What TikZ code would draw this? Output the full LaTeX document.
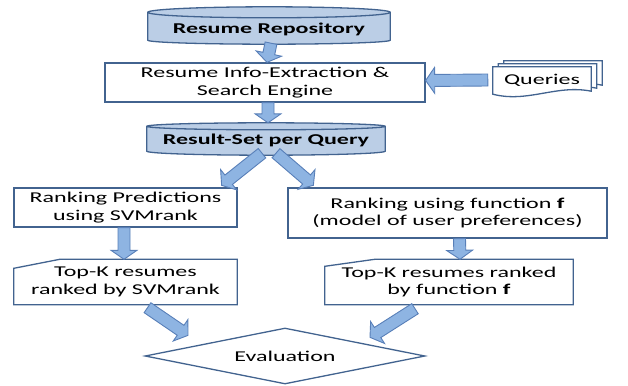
\documentclass[tikz,border=0pt]{standalone}
\usepackage{fontspec}
\setmainfont{Carlito}[FakeStretch=1.6]
\usetikzlibrary{calc,shapes.geometric,backgrounds}

\definecolor{boxline}{RGB}{66,99,143}
\definecolor{drumfill}{RGB}{187,206,230}
\definecolor{arrowfill}{RGB}{142,180,226}
\definecolor{arrowline}{RGB}{88,127,184}

\tikzset{
    flowbox/.style={draw=boxline, line width=1.3pt, fill=white, align=center, inner sep=2pt},
    drumtext/.style={font=\fontsize{15pt}{17.5pt}\selectfont\bfseries, inner sep=0pt, align=center},
    drum/.style={draw=boxline, line width=1.3pt, fill=drumfill},
    sheet/.style={draw=boxline, line width=1.3pt, fill=white},
    snipline/.style={draw=boxline, line width=1.3pt},
    fatarrow/.style={draw=arrowline, line width=0.9pt, fill=arrowfill, line join=miter},
}

% database drum around a text node: #1 node, #2 top radius, #3 bottom radius
\newcommand\drumshape[3]{%
    \begin{scope}[on background layer]
    \draw[drum] let \p1=(#1.north west), \p2=(#1.south east), \n1={(\x2-\x1)/2} in
        (\x1,\y1+#2) -- (\x1,\y2) arc[start angle=180, end angle=360, x radius=\n1, y radius=#3]
        -- (\x2,\y1+#2) arc[start angle=0, end angle=180, x radius=\n1, y radius=#2] -- cycle
        (\x1,\y1+#2) arc[start angle=180, end angle=360, x radius=\n1, y radius=#2];
    \end{scope}}

% one page of a document stack, shifted by (#2,#3) from node #1
\newcommand\docsheet[3]{%
    \draw[sheet] ([shift={(#2,#3)}]#1.south west) -- ([shift={(#2,#3)}]#1.north west)
        -- ([shift={(#2,#3)}]#1.north east) -- ([shift={(#2,#3+3)}]#1.south east)
        .. controls +(-35,7) and +(35,-9) .. ([shift={(#2,#3)}]#1.south west) -- cycle;}

% block arrow from #1 to #2
\newcommand\fatarrow[2]{%
    \coordinate (fa-s) at #1;
    \coordinate (fa-e) at #2;
    \coordinate (fa-n) at ($(fa-e)!9pt!(fa-s)$);
    \draw[fatarrow] ($(fa-s)!6pt!90:(fa-e)$) -- ($(fa-n)!6pt!90:(fa-e)$)
        -- ($(fa-n)!13pt!90:(fa-e)$) -- (fa-e) -- ($(fa-n)!13pt!-90:(fa-e)$)
        -- ($(fa-n)!6pt!-90:(fa-e)$) -- ($(fa-s)!6pt!-90:(fa-e)$) -- cycle;}

\begin{document}
\begin{tikzpicture}[x=1pt, y=1pt, font=\fontsize{15pt}{17.5pt}\selectfont]
    \useasboundingbox (0,0) rectangle (628,-385);

    \node (repo) [drumtext, minimum width=242pt, minimum height=22pt] at (269,-29) {Resume Repository};
    \drumshape{repo}{5.5pt}{4pt}

    \node (search) [flowbox, minimum width=320pt, minimum height=39pt] at (265,-82.5)
        {Resume Info-Extraction \&\\Search Engine};

    \node (queries) [inner sep=0pt, minimum width=98pt, minimum height=27pt] at (542,-80.5) {Queries};
    \begin{scope}[on background layer]
        \docsheet{queries}{11}{6}
        \docsheet{queries}{5.5}{3}
        \docsheet{queries}{0}{0}
    \end{scope}

    \node (result) [drumtext, minimum width=238pt, minimum height=21pt] at (266,-140.5) {Result-Set per Query};
    \drumshape{result}{3.5pt}{4pt}

    \node (rankL) [flowbox, minimum width=223pt, minimum height=39pt] at (125.5,-207.5)
        {Ranking Predictions\\using SVMrank};
    \node (rankR) [flowbox, minimum width=319pt, minimum height=50pt] at (447.5,-213)
        {Ranking using function \textbf{f}\\(model of user preferences)};

    \node (topL) [align=center, minimum width=223pt, minimum height=45pt] at (125.5,-282)
        {Top-K resumes\\ranked by SVMrank};
    \draw[snipline] ([yshift=-9pt]topL.north west) -- ([xshift=46pt]topL.north west)
        -- (topL.north east) -- (topL.south east) -- (topL.south west) -- cycle;
    \node (topR) [align=center, minimum width=248pt, minimum height=45pt] at (449,-282)
        {Top-K resumes ranked\\by function \textbf{f}};
    \draw[snipline] ([yshift=-7pt]topR.north west) -- ([xshift=50pt]topR.north west)
        -- (topR.north east) -- (topR.south east) -- (topR.south west) -- cycle;

    \node (eval) [diamond, draw=boxline, line width=1.3pt, inner sep=0pt, aspect=5,
        minimum width=280pt, minimum height=56pt] at (285,-356) {Evaluation};

    \fatarrow{([xshift=2pt,yshift=-3pt]repo.south)}{([xshift=2pt]search.north)}
    \fatarrow{([xshift=-5pt,yshift=0.5pt]queries.west)}{([yshift=2pt]search.east)}
    \fatarrow{([xshift=3pt]search.south)}{([xshift=2pt,yshift=7pt]result.north)}
    \fatarrow{([xshift=-4pt,yshift=-2pt]result.south)}{([xshift=-16pt,yshift=2pt]rankL.north east)}
    \fatarrow{([xshift=10pt,yshift=-2pt]result.south)}{([xshift=26pt,yshift=2pt]rankR.north west)}
    \fatarrow{([xshift=-1.5pt]rankL.south)}{([xshift=-1.5pt]topL.north)}
    \fatarrow{([xshift=12pt]rankR.south)}{([xshift=11pt]topR.north)}
    \fatarrow{([xshift=22pt,yshift=-3pt]topL.south)}{([xshift=-97pt,yshift=-8pt]eval.north)}
    \fatarrow{([xshift=-34pt,yshift=-4pt]topR.south)}{([xshift=85pt,yshift=-10pt]eval.north)}
\end{tikzpicture}
\end{document}
